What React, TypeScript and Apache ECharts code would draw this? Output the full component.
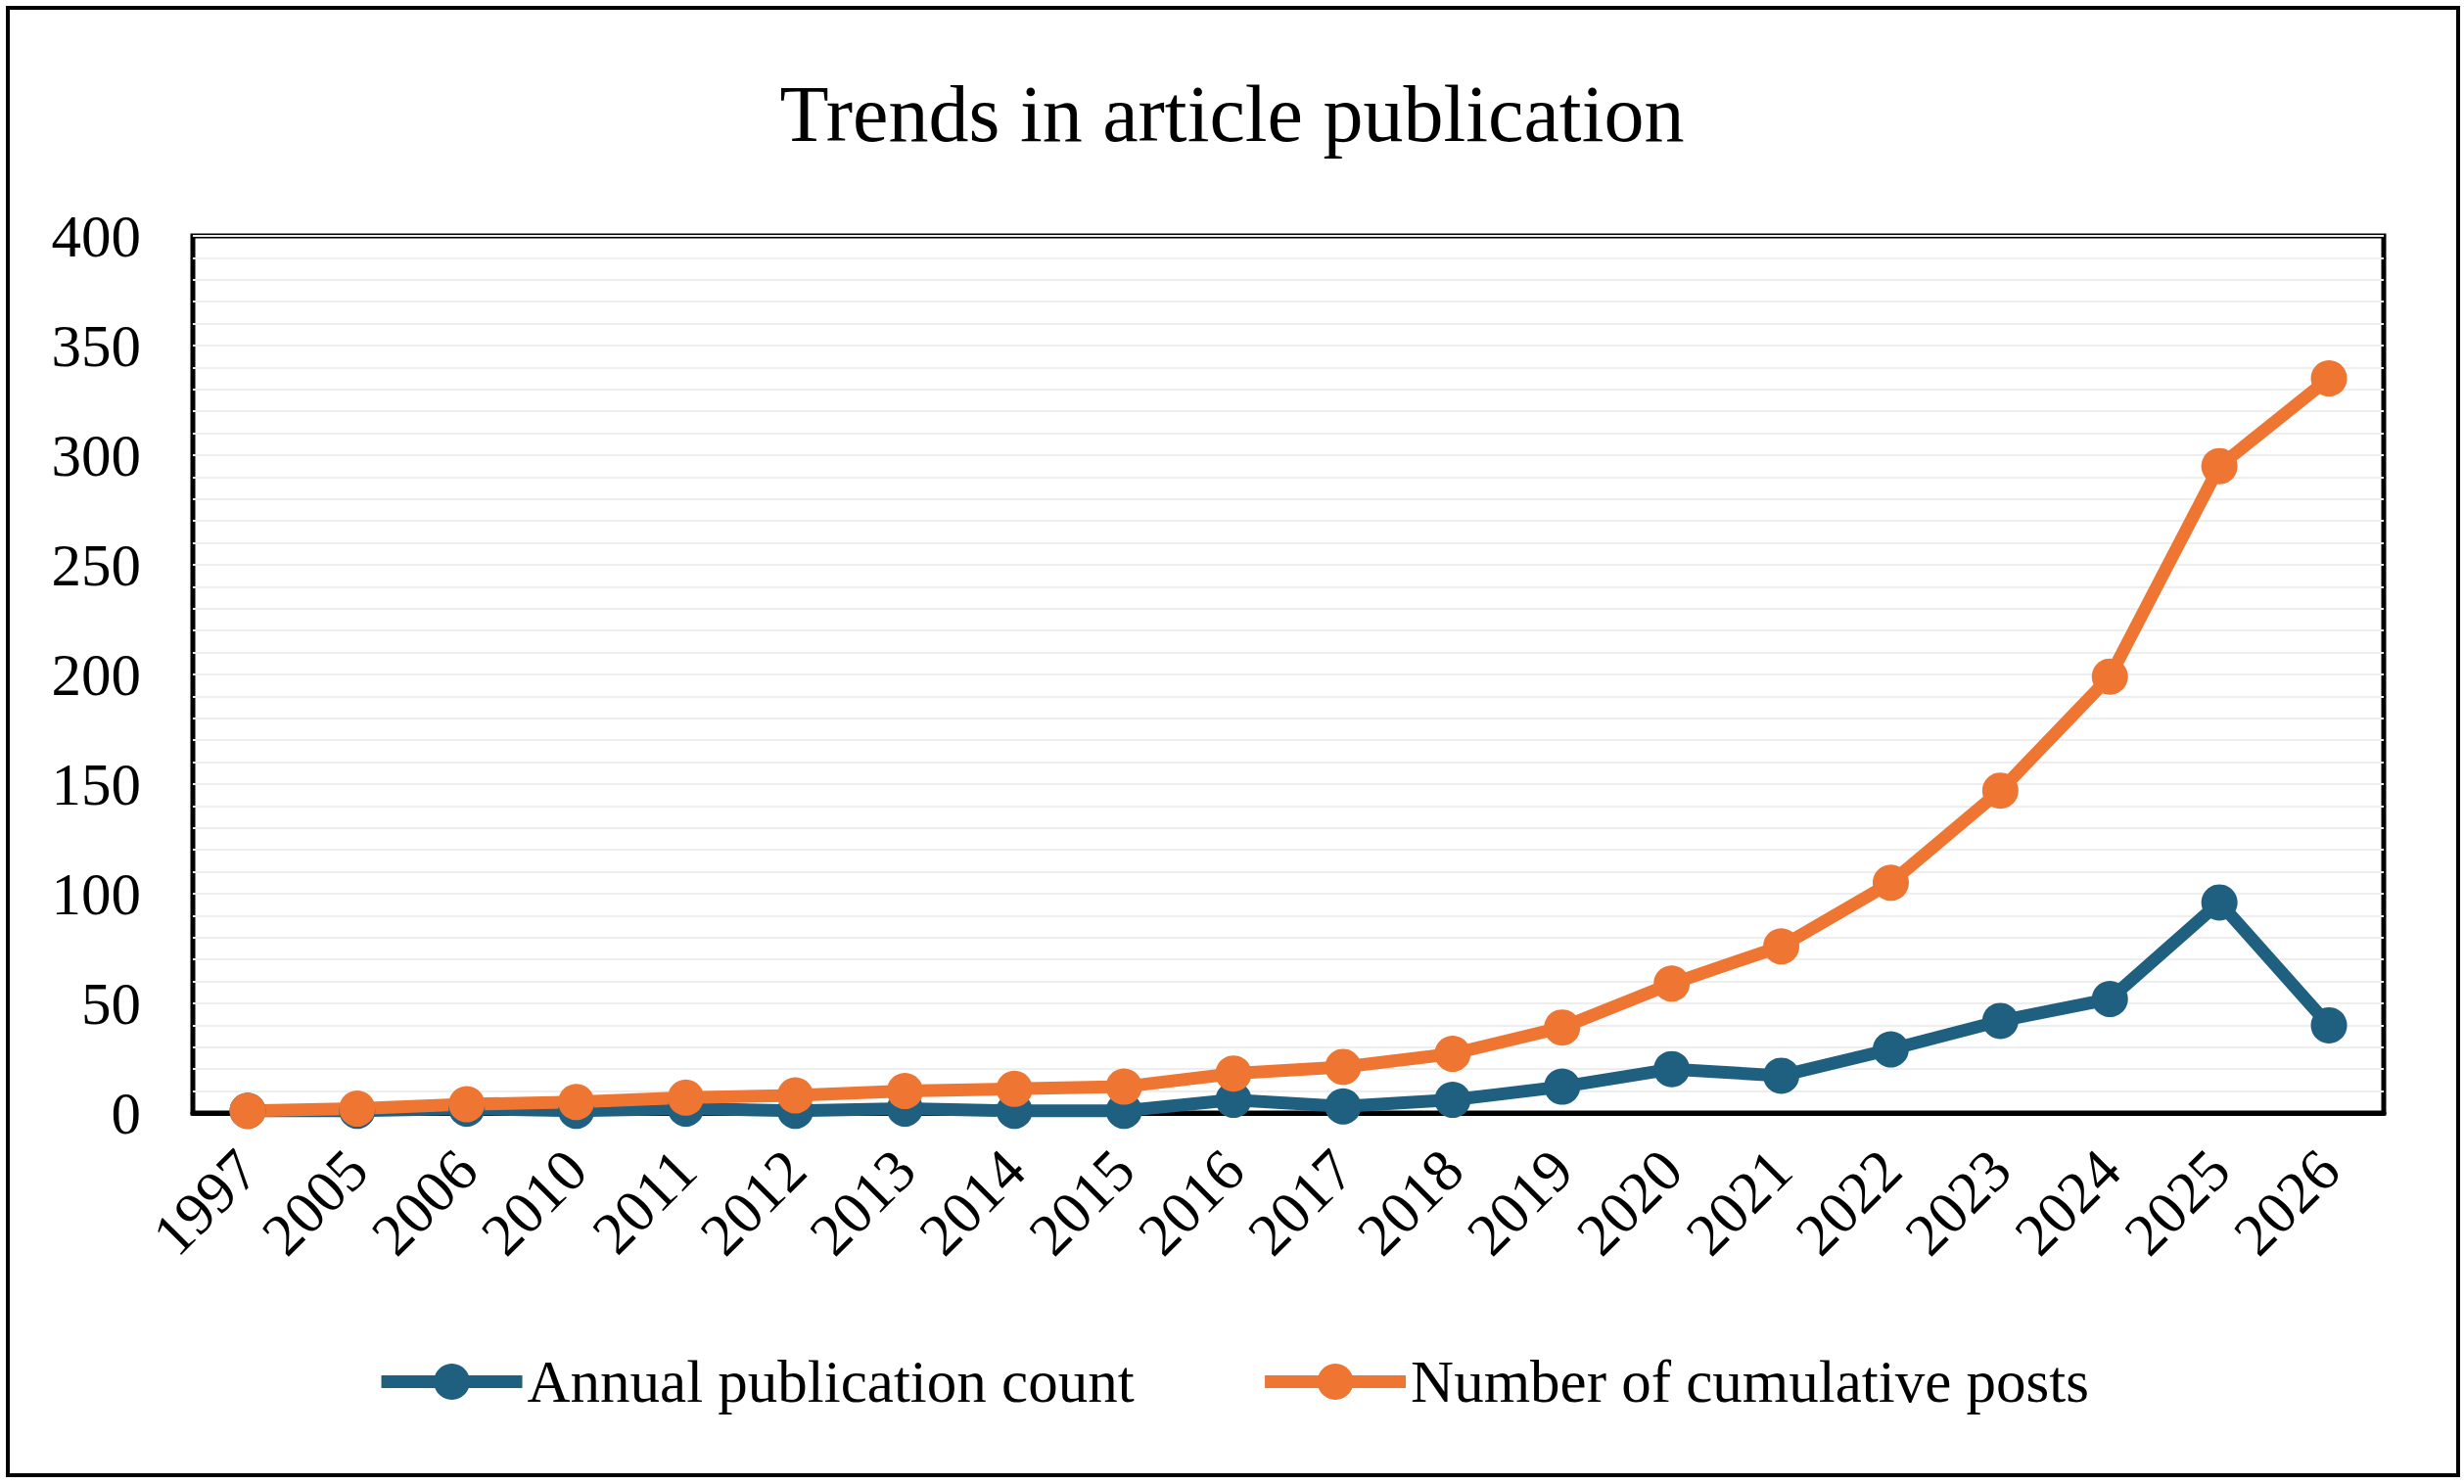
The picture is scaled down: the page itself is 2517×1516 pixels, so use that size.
import React, { useEffect, useRef } from 'react'
import * as echarts from 'echarts'

const years: string[] = [
  '1997', '2005', '2006', '2010', '2011', '2012', '2013', '2014', '2015', '2016',
  '2017', '2018', '2019', '2020', '2021', '2022', '2023', '2024', '2025', '2026'
]
const annualCount: number[] = [1, 1, 2, 1, 2, 1, 2, 1, 1, 6, 3, 6, 12, 20, 17, 29, 42, 52, 96, 40]
const cumulativePosts: number[] = [1, 2, 4, 5, 7, 8, 10, 11, 12, 18, 21, 27, 39, 59, 76, 105, 147, 199, 295, 335]
const seriesNames: string[] = ['Annual publication count', 'Number of cumulative posts']

const FONT = "'Liberation Serif', 'Times New Roman', serif"
const BLUE = '#1f5f80'
const ORANGE = '#ee7632'

const App = () => {
  const chartRef: any = useRef(null)

  useEffect(() => {
    const chart = echarts.init(chartRef.current, null, { renderer: 'svg' })

    const options: any = {
      animation: false,
      backgroundColor: '#ffffff',
      title: {
        text: 'Trends in article publication',
        left: 'center',
        top: 70,
        textStyle: { fontFamily: FONT, fontSize: 82, fontWeight: 'normal', color: '#000' }
      },
      legend: {
        data: seriesNames,
        top: 1376,
        left: 'center',
        itemWidth: 144,
        itemHeight: 46,
        itemGap: 127,
        lineStyle: { width: 13 },
        textStyle: { fontFamily: FONT, fontSize: 61, color: '#000' }
      },
      grid: {
        left: 197,
        top: 241,
        right: 82,
        bottom: 379,
        show: true,
        borderColor: '#000',
        borderWidth: 5,
        containLabel: false
      },
      xAxis: {
        type: 'category',
        data: years,
        boundaryGap: true,
        axisLine: { show: true, lineStyle: { color: '#000', width: 5 } },
        axisTick: { show: false },
        axisLabel: {
          rotate: 45,
          margin: 48,
          interval: 0,
          fontFamily: FONT,
          fontSize: 61,
          color: '#000'
        }
      },
      yAxis: {
        type: 'value',
        min: 0,
        max: 400,
        interval: 50,
        axisLine: { show: false },
        axisTick: { show: false },
        axisLabel: { margin: 53, fontFamily: FONT, fontSize: 61, color: '#000' },
        splitLine: { show: true, lineStyle: { color: '#eeeeee', width: 2 } },
        minorTick: { show: false, splitNumber: 5 },
        minorSplitLine: { show: true, lineStyle: { color: '#eeeeee', width: 2 } }
      },
      series: [
        {
          name: seriesNames[0],
          type: 'line',
          data: annualCount,
          symbol: 'circle',
          symbolSize: 37,
          lineStyle: { color: BLUE, width: 13 },
          itemStyle: { color: BLUE }
        },
        {
          name: seriesNames[1],
          type: 'line',
          data: cumulativePosts,
          symbol: 'circle',
          symbolSize: 37,
          lineStyle: { color: ORANGE, width: 13 },
          itemStyle: { color: ORANGE }
        }
      ],
      graphic: [
        {
          type: 'rect',
          shape: { x: 8, y: 8, width: 2503, height: 1499 },
          style: { fill: 'none', stroke: '#000', lineWidth: 4 },
          silent: true
        }
      ]
    }

    chart.setOption(options)

    return () => {
      chart.dispose()
    }
  }, [])

  return (
    <div
      ref={chartRef}
      style={{ position: 'fixed', left: 0, top: 0, width: 2517, height: 1516 }}
    ></div>
  )
}

export default App
